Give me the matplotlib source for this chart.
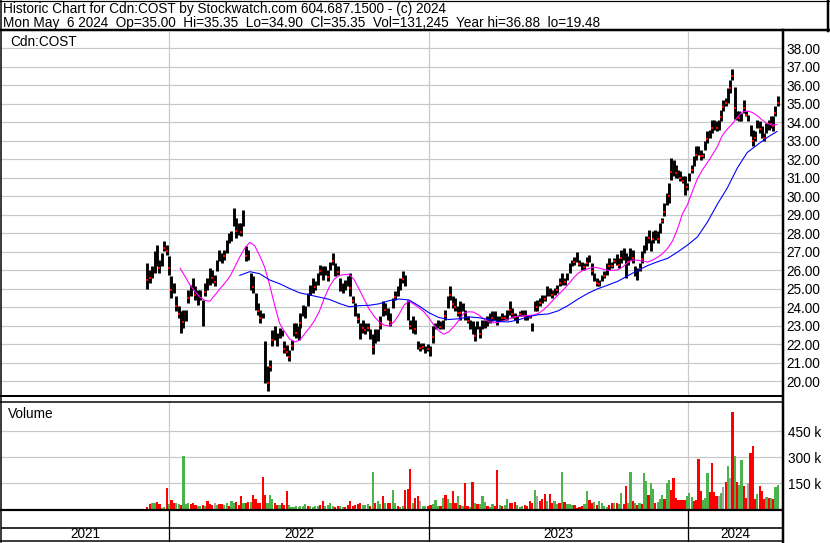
import numpy as np
import pandas as pd
import matplotlib
matplotlib.use('Agg')
import matplotlib.pyplot as plt
import matplotlib.dates as mdates

plt.rcParams['font.family'] = ['Liberation Sans', 'DejaVu Sans']

# ---- data (4 stretches of roughly equal spacing) ----
seg_dates = [('2021-12-01', '2022-07-02'), ('2022-07-04', '2023-02-11'),
             ('2023-02-14', '2023-09-26'), ('2023-09-29', '2024-05-06')]

hi1 = [26.39, 26.03, 26.21, 27.02, 27.38, 26.57, 26.93, 27.56, 27.38, 26.75,
       25.67, 25.31, 24.58, 24.04, 23.77, 23.86, 23.86, 24.95, 25.22, 25.58,
       25.13, 24.95, 24.95, 24.40, 25.31, 25.58, 26.12, 26.03, 25.76, 26.57,
       27.11, 26.93, 27.11, 27.65, 28.01, 28.10, 29.37, 28.83, 28.56, 28.56,
       29.24, 27.29, 27.11, 25.85, 25.67, 24.77, 24.22, 23.86, 23.68, 22.15,
       20.79, 21.16, 22.78, 22.96, 22.60, 22.87, 22.78, 22.15, 21.97, 21.70,
       22.24, 23.14, 23.14, 22.96]
lo1 = [24.98, 25.31, 25.58, 25.85, 26.21, 25.85, 26.21, 27.02, 26.84, 25.76,
       24.49, 24.77, 23.77, 23.41, 22.60, 22.87, 23.23, 24.22, 24.58, 24.95,
       24.40, 24.13, 24.40, 22.96, 24.58, 24.95, 25.22, 25.31, 25.13, 25.94,
       26.48, 26.39, 26.57, 26.93, 27.47, 27.56, 28.38, 27.74, 27.92, 27.83,
       28.38, 26.48, 26.57, 24.95, 24.77, 23.86, 23.59, 23.14, 23.41, 19.89,
       19.44, 20.52, 21.88, 22.24, 21.88, 22.33, 22.42, 21.52, 21.34, 21.07,
       21.70, 22.42, 22.33, 22.24]

hi2 = [23.69, 24.14, 24.05, 24.77, 25.22, 25.58, 25.40, 25.85, 26.29, 26.20,
       26.20, 26.03, 26.47, 26.92, 26.38, 26.20, 25.58, 25.31, 25.49, 25.67,
       25.85, 24.59, 24.23, 23.69, 23.15, 23.33, 23.15, 23.15, 22.79, 22.52,
       22.79, 22.79, 23.51, 24.32, 24.23, 23.96, 23.69, 24.50, 24.86, 25.13,
       25.58, 25.94, 25.76, 24.41, 23.33, 23.51, 23.33, 22.17, 22.08, 22.08,
       21.90, 21.99, 21.90, 22.97, 23.15, 23.33, 23.24, 23.33, 23.87, 24.59,
       25.13, 24.59, 24.50, 24.05]
lo2 = [22.88, 23.51, 23.42, 24.05, 24.68, 24.77, 24.95, 25.22, 25.76, 25.49,
       25.76, 25.40, 26.03, 26.29, 25.67, 25.76, 24.86, 24.77, 24.95, 25.13,
       24.59, 24.23, 23.51, 23.15, 22.25, 22.61, 22.52, 22.70, 22.25, 21.45,
       22.08, 22.17, 22.79, 23.51, 23.60, 23.33, 22.97, 23.96, 24.41, 24.59,
       24.95, 25.31, 25.13, 23.33, 22.79, 22.61, 22.52, 21.72, 21.63, 21.72,
       21.54, 21.63, 21.36, 22.08, 22.79, 22.88, 22.79, 22.79, 23.33, 23.96,
       24.41, 23.96, 23.78, 23.51]

hi3 = [24.32, 24.23, 23.87, 23.51, 23.33, 23.24, 22.97, 23.24, 22.97, 23.33,
       23.33, 23.51, 23.69, 23.78, 23.78, 23.51, 23.51, 23.69, 23.60, 23.87,
       24.32, 23.96, 23.69, 23.60, 23.78, 23.87, 23.87, 23.60, 23.60, 23.15,
       24.32, 24.41, 24.50, 24.68, 24.68, 25.13, 25.04, 24.95, 25.04, 25.22,
       25.58, 25.85, 25.58, 25.85, 26.38, 26.56, 26.74, 26.96, 26.56, 26.47,
       26.38, 26.74, 26.83, 26.38, 25.85, 25.58, 25.49, 25.76, 25.94, 26.38,
       26.65, 26.47, 26.65, 26.87, 26.65]
lo3 = [23.33, 23.78, 23.33, 23.15, 22.79, 22.52, 22.17, 22.79, 22.34, 22.79,
       22.88, 22.97, 23.15, 23.24, 23.33, 23.06, 23.24, 23.24, 23.33, 23.33,
       23.60, 23.42, 23.33, 23.15, 23.51, 23.51, 23.33, 23.33, 23.42, 22.70,
       23.78, 23.78, 24.05, 24.23, 24.32, 24.59, 24.59, 24.50, 24.68, 24.77,
       25.13, 25.22, 25.22, 25.49, 25.85, 26.20, 26.29, 26.47, 26.20, 26.03,
       26.03, 26.20, 26.47, 25.76, 25.40, 25.13, 25.13, 25.40, 25.58, 25.76,
       26.03, 26.11, 26.38, 26.29, 26.11]

hi4 = [27.11, 27.20, 26.93, 26.75, 27.20, 27.11, 26.21, 26.12, 26.39, 27.02,
       27.38, 27.83, 28.19, 27.65, 28.10, 28.19, 28.10, 28.55, 28.82, 29.64,
       30.18, 30.72, 32.07, 31.98, 31.71, 31.44, 31.35, 31.08, 31.08, 30.72,
       31.26, 31.71, 32.16, 32.70, 32.70, 32.52, 32.34, 32.97, 33.52, 33.61,
       34.15, 34.15, 34.06, 34.15, 34.69, 35.23, 35.32, 35.86, 36.31, 36.89,
       35.90, 34.60, 34.60, 34.51, 35.23, 34.60, 34.42, 33.88, 33.61, 33.52,
       34.15, 34.06, 33.79, 33.43, 33.97, 34.15, 34.33, 34.33, 34.87, 35.41]
lo4 = [26.39, 26.57, 25.57, 26.30, 26.57, 26.39, 25.66, 25.48, 25.93, 26.39,
       26.93, 27.11, 27.47, 27.02, 27.47, 27.65, 27.47, 28.01, 28.55, 28.91,
       29.55, 29.64, 30.90, 31.08, 30.99, 30.99, 30.81, 30.72, 30.09, 30.36,
       30.81, 31.26, 31.62, 31.98, 32.25, 31.98, 32.07, 32.52, 32.88, 33.16,
       33.43, 33.61, 33.52, 33.61, 34.06, 34.60, 34.87, 35.05, 35.59, 36.31,
       34.20, 34.15, 34.06, 34.06, 34.51, 34.33, 34.06, 33.25, 32.70, 32.97,
       33.70, 33.43, 33.16, 32.97, 33.43, 33.61, 33.70, 33.52, 34.33, 34.87]

# bars that carry a red close tick (index inside each stretch)
red1 = [0, 1, 5, 7, 8, 9, 10, 12, 13, 15, 17, 20, 24, 27, 28, 32, 37, 39, 41,
        44, 46, 47, 50, 51, 52, 57, 58, 59, 60, 62]
red2 = [0, 6, 8, 11, 13, 15, 20, 21, 23, 25, 26, 27, 29, 32, 34, 36, 38, 41,
        44, 46, 48, 49, 51, 53, 56, 58, 60, 61, 62, 63]
red3 = [0, 3, 6, 8, 13, 17, 18, 20, 21, 22, 24, 26, 28, 31, 32, 34, 37, 39,
        40, 42, 46, 48, 50, 51, 53, 55, 56, 58, 60, 61, 62, 64]
red4 = [0, 3, 5, 8, 9, 12, 14, 16, 18, 19, 21, 22, 24, 26, 27, 29, 31, 33, 35,
        36, 38, 40, 42, 44, 45, 46, 48, 49, 50, 52, 54, 55, 58, 59, 61, 63,
        66, 67, 68, 69]

# volume in thousands, g = up, r = down, n = unchanged
vol1 = [15, 30, 35, 35, 46, 30, 10, 15, 125, 30, 52, 35, 35, 30, 25, 311, 30, 35, 30, 40,
        25, 20, 20, 25, 20, 50, 30, 25, 35, 25, 30, 30, 25, 40, 20, 50, 40, 45, 25, 75,
        35, 40, 45, 45, 86, 60, 35, 40, 185, 86, 35, 86, 60, 40, 25, 25, 35, 25, 104, 25,
        15, 15, 20, 15]
col1 = "rrggrrggrg" "rrggrgggrr" "rggrgrrrng" "rrggrggrrr" "grrgrrrrrr" "gggrrgrrrg" "gggg"
vol2 = [20, 20, 30, 20, 20, 15, 20, 20, 25, 50, 20, 25, 35, 20, 15, 20, 20, 15, 15, 25,
        50, 20, 25, 30, 35, 25, 25, 30, 20, 219, 40, 50, 30, 75, 40, 40, 35, 110, 35, 20,
        15, 20, 115, 121, 236, 40, 67, 75, 50, 20, 20, 20, 25, 30, 55, 20, 20, 65, 81, 60,
        40, 104, 35, 75]
col2 = "gggrggggrr" "ggggrrggrr" "rrrrrgggrg" "rggrgrrggr" "ggrrrgrrng" "grrgggrgrg" "grrg"
vol3 = [25, 20, 150, 20, 15, 156, 40, 30, 30, 75, 45, 20, 15, 30, 20, 225, 25, 20, 25, 60,
        35, 40, 45, 25, 15, 20, 25, 20, 50, 40, 110, 80, 50, 60, 90, 50, 90, 35, 50, 30,
        35, 219, 45, 30, 30, 25, 25, 10, 15, 20, 30, 104, 55, 40, 45, 25, 50, 35, 20, 15,
        25, 40, 35, 40, 30]
col3 = "rgrrgrgrgg" "grggrrgrgg" "rrrgggrrrr" "gnrrrgrrgg" "rgrgggrrrr" "ggrrgrgggg" "rrgrg"
vol4 = [98, 30, 133, 40, 219, 50, 40, 25, 35, 30, 208, 162, 85, 150, 119, 40, 45, 60, 85, 60,
        150, 173, 113, 179, 65, 52, 52, 52, 52, 80, 98, 70, 50, 55, 294, 104, 55, 65, 208, 100,
        271, 100, 75, 80, 98, 130, 156, 252, 180, 560, 306, 156, 142, 287, 138, 65, 150, 323, 369, 60,
        90, 133, 104, 60, 70, 65, 65, 60, 129, 142]
col4 = "grrggrgrgr" "ggrggrgggr" "ggrrrrrrrg" "ggrrrrgggr" "rrrngnrgnr" "grggrrnrrr" "grrrgrgrgg"

# moving averages
ma_fast_start = '2022-01-16'   # weekly samples
ma_fast = [26.11, 25.66, 25.19, 24.84, 24.54, 24.36, 24.32, 24.65, 24.99, 25.30,
           25.65, 26.18, 26.72, 27.19, 27.51, 27.32, 26.79, 26.16, 25.20, 24.12,
           23.13, 22.67, 22.28, 22.12, 22.20, 22.54, 22.88, 23.26, 23.78, 24.49,
           25.10, 25.52, 25.72, 25.76, 25.78, 25.48, 24.97, 24.43, 23.90, 23.50,
           23.21, 23.03, 22.99, 23.20, 23.60, 24.10, 24.33, 24.16, 23.97, 23.75,
           23.42, 23.04, 22.72, 22.53, 22.66, 22.94, 23.27, 23.66, 23.75, 23.73,
           23.58, 23.37, 23.22, 23.15, 23.18, 23.26, 23.36, 23.47, 23.50, 23.53,
           23.55, 23.57, 23.66, 23.84, 24.09, 24.39, 24.66, 24.93, 25.22, 25.55,
           25.83, 25.99, 26.08, 26.16, 26.13, 26.06, 25.99, 25.99, 26.02, 26.18,
           26.42, 26.55, 26.54, 26.49, 26.44, 26.55, 26.70, 26.90, 27.18, 27.58,
           28.24, 29.06, 29.55, 30.27, 30.96, 31.43, 31.82, 32.24, 32.69, 33.29,
           33.64, 33.91, 34.27, 34.56, 34.62, 34.54, 34.37, 34.13, 33.95, 33.86,
           33.88]
ma_slow_start = '2022-04-10'   # fortnightly samples
ma_slow = [25.72, 25.92, 25.81, 25.47, 25.27, 25.01, 24.78, 24.66, 24.54, 24.42,
           24.20, 24.02, 24.08, 24.10, 24.18, 24.35, 24.44, 24.39, 24.07, 23.70,
           23.44, 23.33, 23.37, 23.47, 23.43, 23.34, 23.22, 23.20, 23.31, 23.48,
           23.59, 23.63, 23.80, 24.09, 24.44, 24.75, 25.00, 25.19, 25.40, 25.70,
           25.99, 26.25, 26.46, 26.64, 26.98, 27.36, 27.80, 28.60, 29.57, 30.45,
           31.52, 32.37, 32.78, 33.18, 33.51]

price_ticks = list(range(20, 39))
vol_ticks = [150, 300, 450]
years = ['2021', '2022', '2023', '2024']

title1 = "Historic Chart for Cdn:COST by Stockwatch.com 604.687.1500 - (c) 2024"
title2 = ("Mon May  6 2024  Op=35.00  Hi=35.35  Lo=34.90  Cl=35.35  "
          "Vol=131,245  Year hi=36.88  lo=19.48")

# ---- assemble ----
his = [hi1, hi2, hi3, hi4]
los = [lo1, lo2, lo3, lo4]
reds = [red1, red2, red3, red4]
vols = [vol1, vol2, vol3, vol4]
cols = [col1, col2, col3, col4]

dates, hi, lo, vol, col, red_idx = [], [], [], [], [], []
for (d0, d1), h, l, r, v, c in zip(seg_dates, his, los, reds, vols, cols):
    off = len(hi)
    dates += list(pd.date_range(d0, d1, periods=len(h)))
    hi += h
    lo += l
    red_idx += [off + i for i in r]
    vol += v
    col += list(c)
x = mdates.date2num(pd.DatetimeIndex(dates).to_pydatetime())
hi = np.array(hi)
lo = np.array(lo)
vol = np.array(vol)
colour_map = {'g': '#4cb34c', 'r': '#ff0000', 'n': '#a6a6a6'}
bar_colors = [colour_map[c] for c in col]

x_fast = mdates.date2num(pd.date_range(ma_fast_start, periods=len(ma_fast), freq='7D').to_pydatetime())
x_slow = mdates.date2num(pd.date_range(ma_slow_start, periods=len(ma_slow), freq='14D').to_pydatetime())

xmin = mdates.date2num(pd.Timestamp('2021-05-09'))
xmax = mdates.date2num(pd.Timestamp('2024-05-12'))
year_lines = [mdates.date2num(pd.Timestamp(f'{y}-01-01')) for y in (2022, 2023, 2024)]

W, H = 830, 543
fig = plt.figure(figsize=(W / 100, H / 100), dpi=100)
PX = 0.72  # one pixel in points


def rect(x0, y0, x1, y1):
    return [x0 / W, 1 - y1 / H, (x1 - x0) / W, (y1 - y0) / H]


grid_c = '#c8c8c8'
fs = 9.8

# price panel
ax = fig.add_axes(rect(1, 31.5, 782, 396))
ax.set_xlim(xmin, xmax)
ax.set_ylim(19.19, 38.92)
for p in price_ticks:
    ax.axhline(p, color=grid_c, lw=PX * 1.2, zorder=0)
for xl in year_lines:
    ax.axvline(xl, color=grid_c, lw=PX * 1.2, zorder=0)
ax.vlines(x, lo, hi, color='black', lw=PX * 2.9, zorder=2)
close_y = lo[red_idx] + 0.35 * (hi[red_idx] - lo[red_idx])
ax.plot(x[red_idx], close_y, 's', color='red', ms=2.0, mew=0, zorder=3)
ax.plot(x_fast, ma_fast, color='#ff00ff', lw=PX * 1.1, zorder=4)
ax.plot(x_slow, ma_slow, color='#0000ff', lw=PX * 1.1, zorder=4)
ax.yaxis.tick_right()
ax.set_yticks(price_ticks)
ax.set_yticklabels([f'{p:.2f}' for p in price_ticks], fontsize=fs)
ax.tick_params(axis='y', length=0, pad=3.5)
ax.set_xticks([])
for s in ax.spines.values():
    s.set_visible(False)
ax.text(9 / 781, 1 - 10.5 / 364.5, 'Cdn:COST', transform=ax.transAxes,
        fontsize=fs, va='center', ha='left')

# volume panel
av = fig.add_axes(rect(1, 402, 782, 509.5))
av.set_xlim(xmin, xmax)
av.set_ylim(0, 620)
for v in vol_ticks:
    av.axhline(v, color=grid_c, lw=PX * 1.2, zorder=0)
for xl in year_lines:
    av.axvline(xl, color=grid_c, lw=PX * 1.2, zorder=0)
av.bar(x, vol, width=3.1, color=bar_colors, linewidth=0, zorder=2)
av.yaxis.tick_right()
av.set_yticks(vol_ticks)
av.set_yticklabels([f'{v} k' for v in vol_ticks], fontsize=fs)
av.tick_params(axis='y', length=0, pad=4)
av.set_xticks([])
for s in av.spines.values():
    s.set_visible(False)
av.text(7 / 781, 1 - 12 / 107.5, 'Volume', transform=av.transAxes,
        fontsize=fs, va='center', ha='left')

# year strip
ay = fig.add_axes(rect(1, 509.5, 782, 541.5))
ay.set_xlim(xmin, xmax)
ay.set_ylim(0, 32)
for xl in year_lines:
    ay.axvline(xl, color='black', lw=PX * 1.3)
ay.axhline(32 - 18.2, color='black', lw=PX * 1.6)
edges = [xmin] + year_lines + [xmax]
for i, yr in enumerate(years):
    ay.text((edges[i] + edges[i + 1]) / 2, 7, yr, fontsize=fs,
            ha='center', va='center')
ay.axis('off')

# frame lines and header, in pixel coordinates
fr = fig.add_axes([0, 0, 1, 1], facecolor='none', zorder=10)
fr.set_xlim(0, W)
fr.set_ylim(H, 0)
fr.axis('off')
k = 'black'
fr.plot([0, 828.5], [0.5, 0.5], color=k, lw=PX * 1.2)
fr.plot([0.6, 0.6], [0, 542], color=k, lw=PX * 1.5)
fr.plot([827.5, 827.5], [0, 31], color=k, lw=PX * 2.5)
fr.plot([0, 829], [30.3, 30.3], color=k, lw=PX * 2.5)
fr.plot([782.5, 782.5], [30, H], color=k, lw=PX * 2.5)
fr.plot([0, 782], [396, 396], color=k, lw=PX * 2)
fr.plot([0, 782], [401.6, 401.6], color=k, lw=PX * 1.5)
fr.plot([0, 782], [509.9, 509.9], color=k, lw=PX * 2.2)
fr.plot([0, 782], [541.2, 541.2], color=k, lw=PX * 1.5)
fr.text(3, 9.5, title1, fontsize=fs, va='center', ha='left')
fr.text(3, 22.5, title2, fontsize=fs, va='center', ha='left')

fig.savefig('out.png', dpi=100)
